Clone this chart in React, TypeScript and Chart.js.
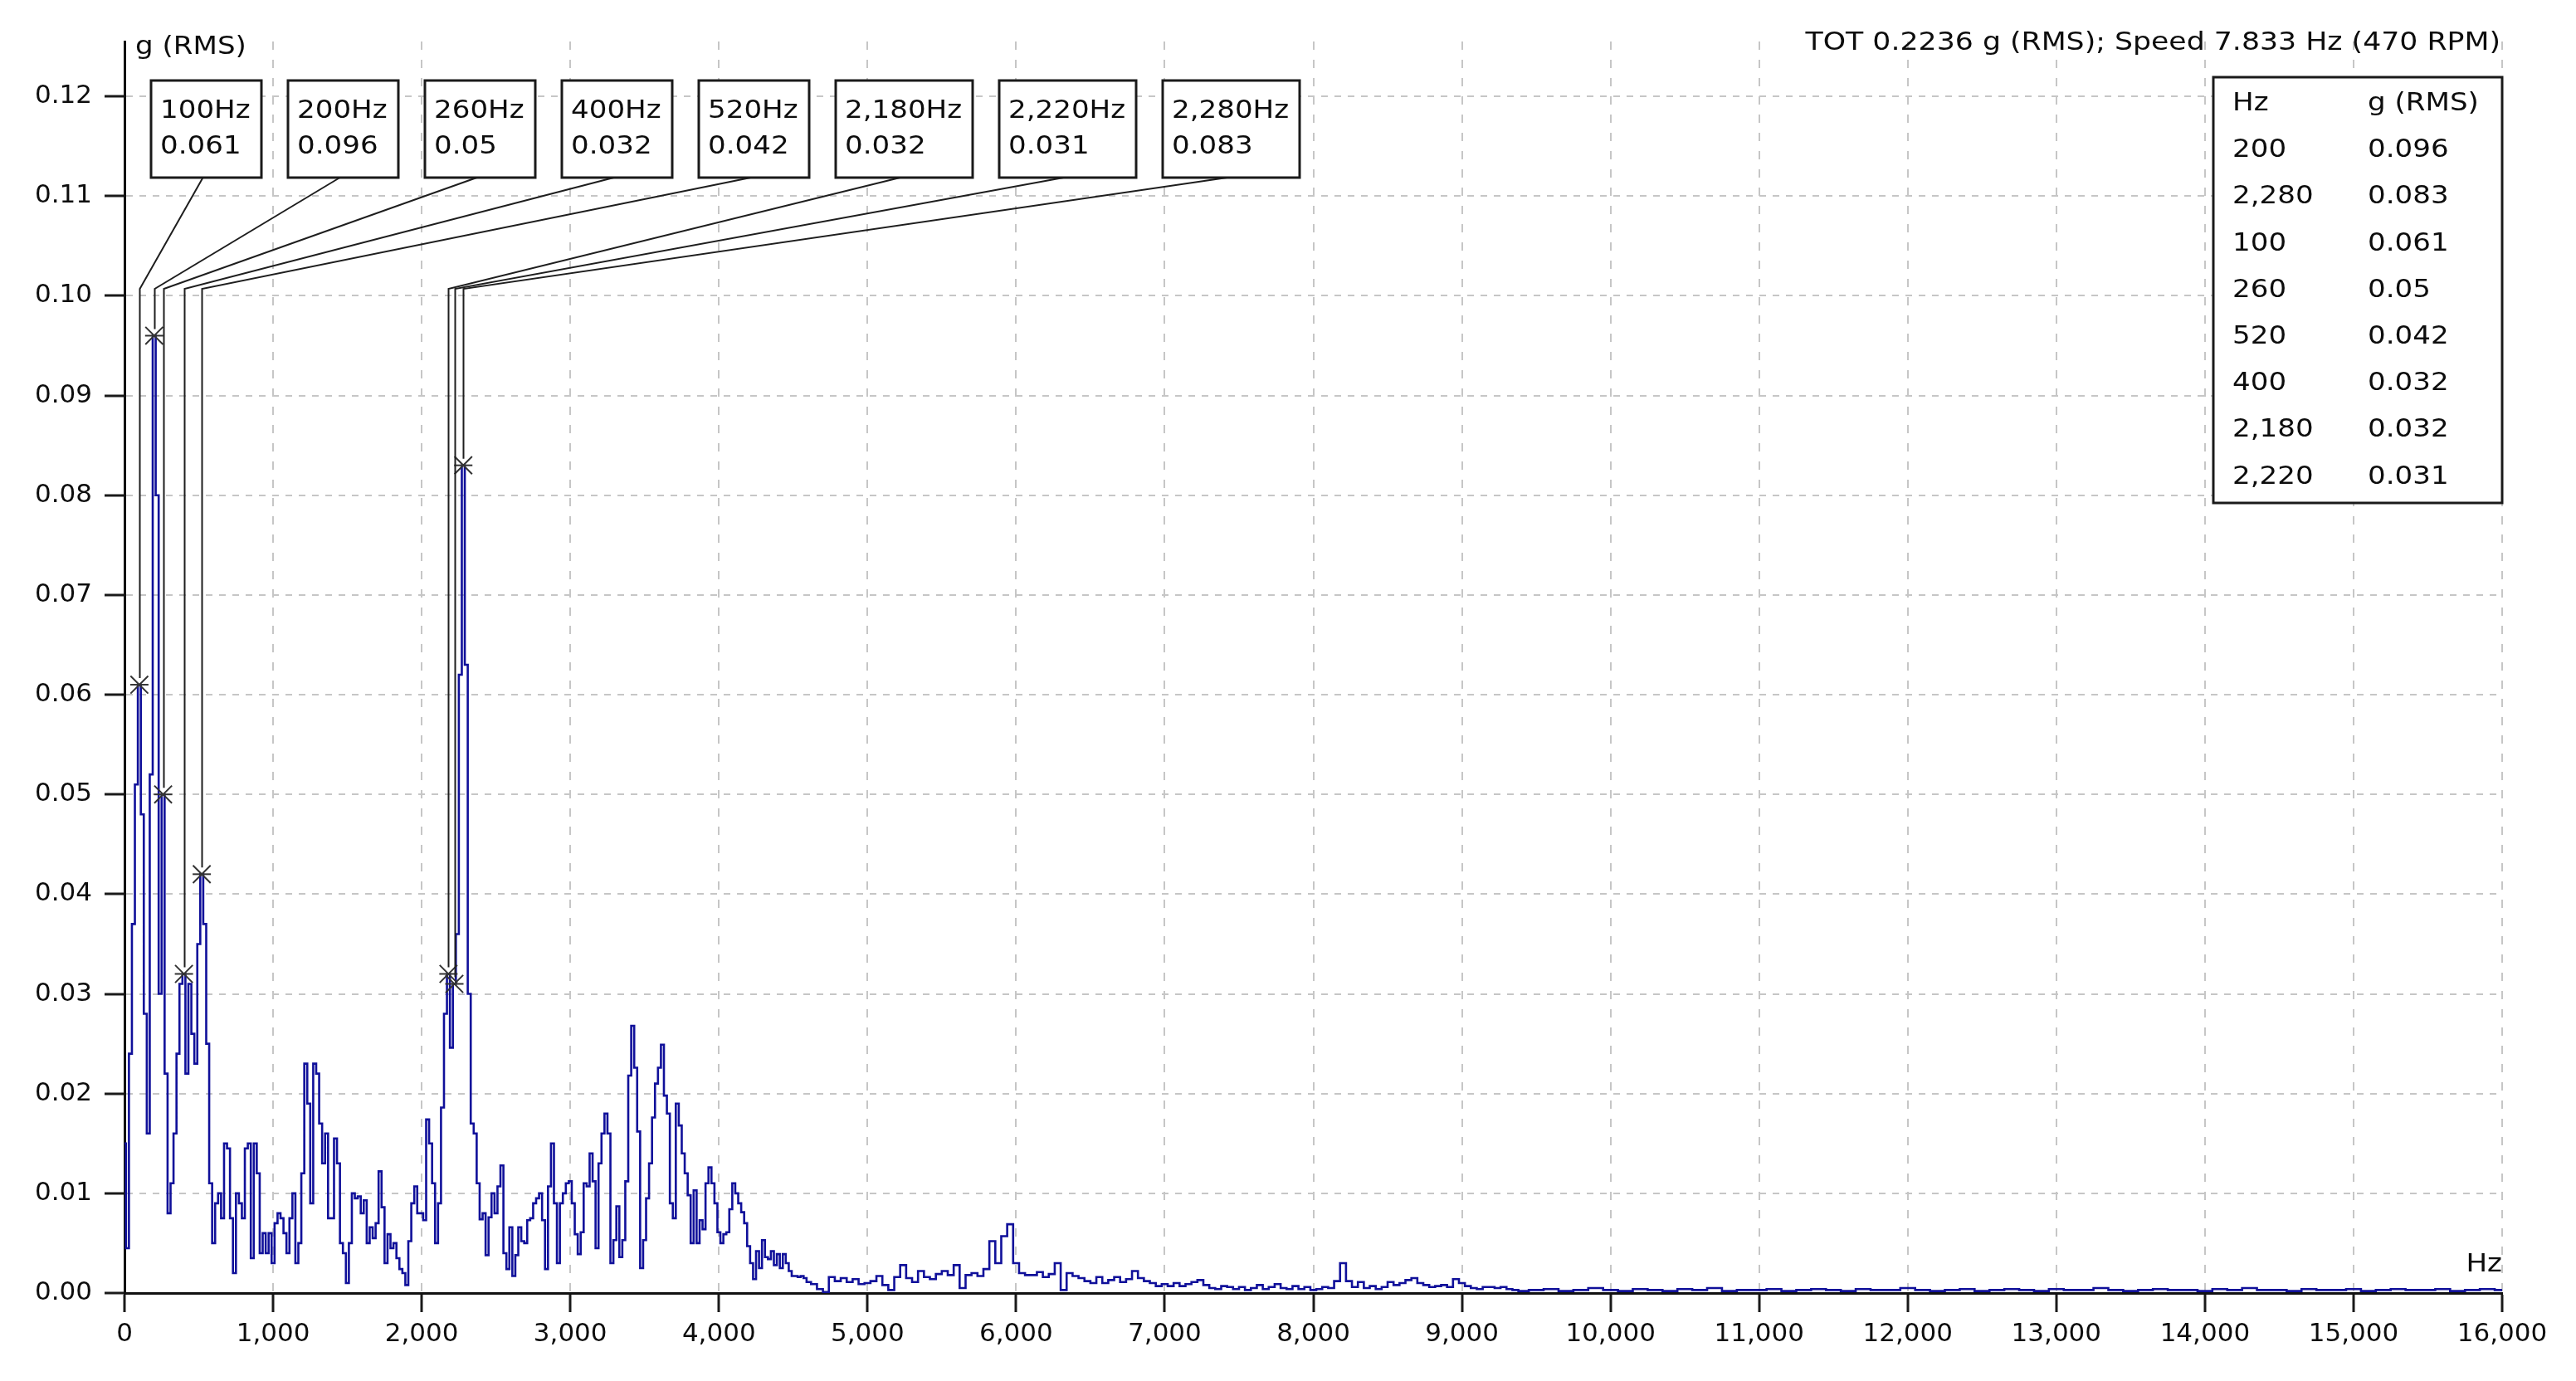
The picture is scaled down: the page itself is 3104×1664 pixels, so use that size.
import React, { useEffect, useRef } from "react";
import { Chart, registerables } from "chart.js";

Chart.register(...registerables);

// ---------------- DATA ----------------
const TITLE_TEXT = "TOT 0.2236 g (RMS); Speed 7.833 Hz (470 RPM)";
const Y_AXIS_TITLE = "g (RMS)";
const X_AXIS_TITLE = "Hz";

// Picked peaks (annotation order, left to right)
const PEAK_HZ = [100, 200, 260, 400, 520, 2180, 2220, 2280];
const PEAK_G = [0.061, 0.096, 0.05, 0.032, 0.042, 0.032, 0.031, 0.083];

// Table column headers
const TABLE_HEADERS = ["Hz", "g (RMS)"];

// Axis ranges / ticks
const X_MIN = 0;
const X_MAX = 16000;
const X_TICK_STEP = 1000;
const Y_MIN = 0;
const Y_MAX = 0.1255;
const Y_TICK_STEP = 0.01;
const LEADER_KNEE_G = 0.1007;

// Spectrum, band 1: 0 .. 4600 Hz every 20 Hz
const BAND1_START_HZ = 0;
const BAND1_STEP_HZ = 20;
const BAND1_G = [
  0.015, 0.0045, 0.024, 0.037, 0.051, 0.061, 0.048, 0.028, 0.016, 0.052,
  0.096, 0.080, 0.030, 0.050, 0.022, 0.008, 0.011, 0.016, 0.024, 0.031,
  0.032, 0.022, 0.031, 0.026, 0.023, 0.035, 0.042, 0.037, 0.025, 0.011,
  0.005, 0.009, 0.010, 0.0075, 0.015, 0.0145, 0.0075, 0.002, 0.010, 0.009,
  0.0075, 0.0145, 0.015, 0.0035, 0.015, 0.012, 0.004, 0.006, 0.004, 0.006,
  0.003, 0.007, 0.008, 0.0075, 0.006, 0.004, 0.0075, 0.010, 0.003, 0.005,
  0.012, 0.023, 0.019, 0.009, 0.023, 0.022, 0.017, 0.013, 0.016, 0.0075,
  0.0075, 0.0155, 0.013, 0.005, 0.004, 0.001, 0.005, 0.010, 0.0095, 0.0097,
  0.008, 0.0093, 0.005, 0.0066, 0.0055, 0.007, 0.0122, 0.0086, 0.003, 0.0059,
  0.0045, 0.005, 0.0035, 0.0024, 0.002, 0.0008, 0.0052, 0.009, 0.0107, 0.008,
  0.008, 0.0073, 0.0174, 0.015, 0.011, 0.005, 0.009, 0.0186, 0.028, 0.032,
  0.0246, 0.031, 0.036, 0.062, 0.083, 0.063, 0.030, 0.017, 0.016, 0.011,
  0.0074, 0.008, 0.0038, 0.0076, 0.010, 0.008, 0.0107, 0.0128, 0.004, 0.0024,
  0.0066, 0.0017, 0.0038, 0.0066, 0.0052, 0.005, 0.0073, 0.0075, 0.009, 0.0095,
  0.010, 0.0073, 0.0024, 0.0107, 0.015, 0.009, 0.003, 0.009, 0.010, 0.011,
  0.0112, 0.009, 0.0059, 0.0039, 0.0061, 0.011, 0.0107, 0.014, 0.0112, 0.0045,
  0.013, 0.016, 0.018, 0.016, 0.003, 0.0053, 0.0087, 0.0036, 0.0053, 0.0112,
  0.0218, 0.0268, 0.0226, 0.0162, 0.0025, 0.0053, 0.0095, 0.013, 0.0176, 0.021,
  0.0226, 0.0249, 0.0198, 0.018, 0.009, 0.0075, 0.019, 0.0168, 0.014, 0.012,
  0.0098, 0.005, 0.0103, 0.005, 0.0073, 0.0064, 0.011, 0.0126, 0.011, 0.009,
  0.0061, 0.005, 0.0059, 0.0061, 0.0084, 0.011, 0.010, 0.009, 0.0081, 0.007,
  0.0047, 0.003, 0.0014, 0.0042, 0.0025, 0.0053, 0.0036, 0.0034, 0.0042, 0.0028,
  0.0039, 0.0025, 0.0039, 0.003, 0.0022, 0.0017, 0.0017, 0.0016, 0.0017, 0.0015,
  0.0011,
];

// Spectrum, band 2: 4640 .. 9400 Hz every 40 Hz
const BAND2_START_HZ = 4640;
const BAND2_STEP_HZ = 40;
const BAND2_G = [
  0.0009, 0.0004, 0.0001, 0.0016, 0.0012, 0.0015, 0.0011, 0.0014, 0.0009, 0.0010,
  0.0012, 0.0017, 0.0008, 0.0003, 0.0016, 0.0028, 0.0015, 0.0011, 0.0022, 0.0016,
  0.0014, 0.0019, 0.0022, 0.0018, 0.0028, 0.0005, 0.0018, 0.0020, 0.0017, 0.0024,
  0.0052, 0.0030, 0.0057, 0.0069, 0.0030, 0.0020, 0.0018, 0.0018, 0.0021, 0.0016,
  0.0019, 0.0030, 0.0003, 0.0020, 0.0017, 0.0015, 0.0012, 0.0010, 0.0016, 0.0010,
  0.0013, 0.0016, 0.0011, 0.0014, 0.0022, 0.0015, 0.0012, 0.0010, 0.0007, 0.0009,
  0.0007, 0.0010, 0.0007, 0.0009, 0.0011, 0.0013, 0.0008, 0.0005, 0.0004, 0.0007,
  0.0006, 0.0004, 0.0006, 0.0003, 0.0005, 0.0008, 0.0004, 0.0006, 0.0009, 0.0005,
  0.0004, 0.0007, 0.0004, 0.0006, 0.0003, 0.0004, 0.0006, 0.0005, 0.0012, 0.0030,
  0.0012, 0.0006, 0.0011, 0.0005, 0.0007, 0.0004, 0.0006, 0.0011, 0.0008, 0.0010,
  0.0013, 0.0015, 0.0010, 0.0008, 0.0006, 0.0007, 0.0008, 0.0006, 0.0014, 0.0010,
  0.0007, 0.0005, 0.0004, 0.0006, 0.0006, 0.0005, 0.0006, 0.0004, 0.0003, 0.0002,
];

// Spectrum, band 3: 9500 .. 16000 Hz every 100 Hz
const BAND3_START_HZ = 9500;
const BAND3_STEP_HZ = 100;
const BAND3_G = [
  0.0003, 0.0004, 0.0002, 0.0003, 0.0005, 0.0003, 0.0002, 0.0004, 0.0003, 0.0002,
  0.0004, 0.0003, 0.0005, 0.0002, 0.0003, 0.0003, 0.0004, 0.0002, 0.0003, 0.0004,
  0.0003, 0.0002, 0.0004, 0.0003, 0.0003, 0.0005, 0.0003, 0.0002, 0.0003, 0.0004,
  0.0002, 0.0003, 0.0004, 0.0003, 0.0002, 0.0004, 0.0003, 0.0003, 0.0005, 0.0003,
  0.0002, 0.0003, 0.0004, 0.0003, 0.0003, 0.0002, 0.0004, 0.0003, 0.0005, 0.0003,
  0.0003, 0.0002, 0.0004, 0.0003, 0.0003, 0.0004, 0.0002, 0.0003, 0.0004, 0.0003,
  0.0003, 0.0004, 0.0002, 0.0003, 0.0004, 0.0003,
];

// ---------------- STYLE ----------------
const W = 3104;
const H = 1664;
const FONT = '"DejaVu Sans", "Liberation Sans", sans-serif';
const FONT_SIZE = 31;
const TEXT_COLOR = "#0d0d0d";
const LINE_BLUE = "#10109a";
const GRID_COLOR = "#c6c6c6";
const TEXT_STRETCH = 1.1;

function bandPoints(start: number, step: number, vals: number[]) {
  return vals.map((g, i) => ({ x: start + i * step, y: g }));
}

function fmtHz(v: number) {
  return Number(v).toLocaleString("en-US");
}

function stretchedText(
  ctx: CanvasRenderingContext2D,
  text: string,
  x: number,
  y: number,
  align: CanvasTextAlign,
  sx: number
) {
  ctx.save();
  ctx.translate(x, y);
  ctx.scale(sx, 1);
  ctx.textAlign = align;
  ctx.textBaseline = "middle";
  ctx.fillText(text, 0, 0);
  ctx.restore();
}

function boxLayout(ctx: CanvasRenderingContext2D) {
  ctx.save();
  ctx.font = `${FONT_SIZE}px ${FONT}`;
  const boxes: { x: number; y: number; w: number; h: number; l1: string; l2: string }[] = [];
  let x = 182;
  PEAK_HZ.forEach((hz, i) => {
    const l1 = `${fmtHz(hz)}Hz`;
    const l2 = `${PEAK_G[i]}`;
    const tw = Math.max(ctx.measureText(l1).width, ctx.measureText(l2).width) * TEXT_STRETCH;
    const w = Math.round(tw + 24);
    boxes.push({ x, y: 97, w, h: 117, l1, l2 });
    x += w + 32;
  });
  ctx.restore();
  return boxes;
}

const decorPlugin = {
  id: "decor",
  afterDatasetsDraw(chart: any) {
    const { ctx, scales } = chart;
    const xs = scales.x;
    const ys = scales.y;
    const boxes = boxLayout(ctx);
    const kneeY = ys.getPixelForValue(LEADER_KNEE_G);
    ctx.save();
    ctx.strokeStyle = "#1e1e1e";
    ctx.lineWidth = 2;
    PEAK_HZ.forEach((hz, i) => {
      const px = Math.round(xs.getPixelForValue(hz)) + 0.5;
      const py = ys.getPixelForValue(PEAK_G[i]) - 8;
      const b = boxes[i];
      ctx.beginPath();
      ctx.moveTo(b.x + b.w * 0.47, b.y + b.h);
      ctx.lineTo(px, kneeY);
      ctx.lineTo(px, py);
      ctx.stroke();
    });
    // annotation boxes
    ctx.font = `${FONT_SIZE}px ${FONT}`;
    boxes.forEach((b) => {
      ctx.fillStyle = "#ffffff";
      ctx.fillRect(b.x, b.y, b.w, b.h);
      ctx.strokeStyle = "#1a1a1a";
      ctx.lineWidth = 3;
      ctx.strokeRect(b.x, b.y, b.w, b.h);
      ctx.fillStyle = TEXT_COLOR;
      stretchedText(ctx, b.l1, b.x + 11, b.y + 37, "left", TEXT_STRETCH);
      stretchedText(ctx, b.l2, b.x + 11, b.y + 80, "left", TEXT_STRETCH);
    });
    ctx.restore();
  },
  afterDraw(chart: any) {
    const { ctx, chartArea } = chart;
    ctx.save();
    ctx.font = `${FONT_SIZE}px ${FONT}`;
    ctx.fillStyle = TEXT_COLOR;
    // title, top right
    stretchedText(ctx, TITLE_TEXT, chartArea.right - 2, 52, "right", 1.12);
    // y-axis title
    stretchedText(ctx, Y_AXIS_TITLE, chartArea.left + 13, 57, "left", TEXT_STRETCH);
    // x-axis title
    stretchedText(ctx, X_AXIS_TITLE, chartArea.right, chartArea.bottom - 34, "right", TEXT_STRETCH);

    // peak table (sorted by amplitude)
    const order = PEAK_HZ.map((_, i) => i).sort((a, b) => PEAK_G[b] - PEAK_G[a]);
    const tx = 2667;
    const ty = 93;
    const tw = chartArea.right - tx;
    const th = 513;
    ctx.fillStyle = "#ffffff";
    ctx.fillRect(tx, ty, tw, th);
    ctx.strokeStyle = "#1a1a1a";
    ctx.lineWidth = 3;
    ctx.strokeRect(tx, ty, tw, th);
    ctx.fillStyle = TEXT_COLOR;
    const rowH = 56.2;
    const c1 = tx + 23;
    const c2 = tx + 186;
    stretchedText(ctx, TABLE_HEADERS[0], c1, ty + 32, "left", TEXT_STRETCH);
    stretchedText(ctx, TABLE_HEADERS[1], c2, ty + 32, "left", TEXT_STRETCH);
    order.forEach((idx, r) => {
      const yy = ty + 32 + (r + 1) * rowH;
      stretchedText(ctx, fmtHz(PEAK_HZ[idx]), c1, yy, "left", TEXT_STRETCH);
      stretchedText(ctx, `${PEAK_G[idx]}`, c2, yy, "left", TEXT_STRETCH);
    });
    ctx.restore();
  },
};

export default function App() {
  const canvasRef = useRef<HTMLCanvasElement | null>(null);

  useEffect(() => {
    const canvas = canvasRef.current;
    if (!canvas) return;
    const spectrum = [
      ...bandPoints(BAND1_START_HZ, BAND1_STEP_HZ, BAND1_G),
      ...bandPoints(BAND2_START_HZ, BAND2_STEP_HZ, BAND2_G),
      ...bandPoints(BAND3_START_HZ, BAND3_STEP_HZ, BAND3_G),
    ];
    const peaks = PEAK_HZ.map((hz, i) => ({ x: hz, y: PEAK_G[i] }));
    const tickFont = { family: FONT, size: FONT_SIZE };

    const chart = new Chart(canvas, {
      type: "line",
      data: {
        datasets: [
          {
            label: "peaks-x",
            data: peaks,
            showLine: false,
            pointStyle: "crossRot",
            pointRadius: 15,
            pointBorderColor: "#333333",
            pointBackgroundColor: "rgba(0,0,0,0)",
            pointBorderWidth: 2,
            order: 0,
          },
          {
            label: "peaks-bar",
            data: peaks,
            showLine: false,
            pointStyle: "line",
            pointRadius: 11,
            pointBorderColor: "#333333",
            pointBackgroundColor: "rgba(0,0,0,0)",
            pointBorderWidth: 2,
            order: 1,
          },
          {
            label: "spectrum",
            data: spectrum,
            borderColor: LINE_BLUE,
            borderWidth: 2.6,
            pointRadius: 0,
            fill: false,
            stepped: "middle",
            order: 2,
          },
        ],
      },
      options: {
        responsive: false,
        devicePixelRatio: 1,
        animation: false,
        events: [],
        layout: { padding: { top: 50, right: 89, left: 0, bottom: 0 } },
        plugins: {
          legend: { display: false },
          tooltip: { enabled: false },
          title: { display: false },
        },
        scales: {
          x: {
            type: "linear",
            min: X_MIN,
            max: X_MAX,
            ticks: {
              stepSize: X_TICK_STEP,
              autoSkip: false,
              maxRotation: 0,
              includeBounds: false,
              callback: (v: any) => fmtHz(Number(v)),
              font: tickFont,
              color: TEXT_COLOR,
              padding: 8,
            },
            grid: {
              color: GRID_COLOR,
              lineWidth: 2,
              drawTicks: true,
              tickLength: 23,
              tickColor: "#1a1a1a",
              tickWidth: 3,
              tickBorderDash: [],
            },
            border: { display: true, color: "#111111", width: 3, dash: [10, 12] },
            afterFit: (s: any) => {
              s.height = H - 1558;
            },
          },
          y: {
            type: "linear",
            min: Y_MIN,
            max: Y_MAX,
            ticks: {
              stepSize: Y_TICK_STEP,
              includeBounds: false,
              callback: (v: any) => Number(v).toFixed(2),
              font: tickFont,
              color: TEXT_COLOR,
              padding: 15,
            },
            grid: {
              color: GRID_COLOR,
              lineWidth: 2,
              drawTicks: true,
              tickLength: 24,
              tickColor: "#1a1a1a",
              tickWidth: 3,
              tickBorderDash: [],
            },
            border: { display: true, color: "#111111", width: 3, dash: [8, 8] },
            afterFit: (s: any) => {
              s.width = 150;
            },
          },
        },
      },
      plugins: [decorPlugin],
    } as any);

    return () => {
      chart.destroy();
    };
  }, []);

  return (
    <div
      style={{
        position: "fixed",
        left: 0,
        top: 0,
        width: W,
        height: H,
        background: "#ffffff",
      }}
    >
      <canvas ref={canvasRef} width={W} height={H} style={{ width: W, height: H, display: "block" }} />
    </div>
  );
}
